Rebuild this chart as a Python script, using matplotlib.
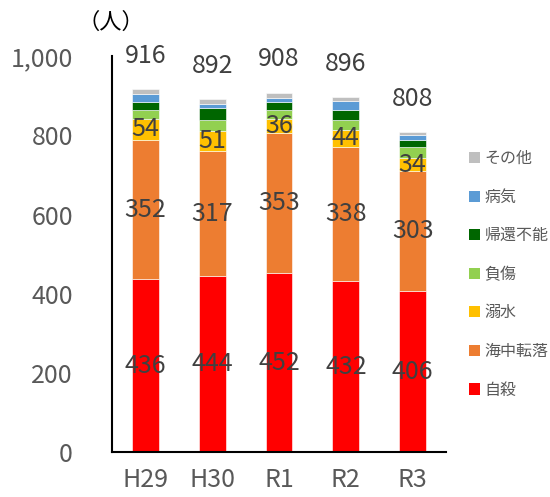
import matplotlib
matplotlib.use('Agg')

import numpy as np
import matplotlib.pyplot as plt
from matplotlib.patches import Patch
from matplotlib.ticker import FuncFormatter

# Font with Japanese glyphs first, DejaVu as fallback
plt.rcParams['font.family'] = ['Noto Sans CJK JP', 'DejaVu Sans']

# Fiscal years
years = ['H29', 'H30', 'R1', 'R2', 'R3']

# Values per cause (bottom to top)
jisatsu    = [436, 444, 452, 432, 406]
kaichu     = [352, 317, 353, 338, 303]
dekisui    = [54, 51, 36, 44, 34]
fusho      = [23, 26, 23, 25, 27]
kikan      = [20, 30, 19, 25, 19]
byoki      = [19, 12, 12, 22, 11]
sonota     = [12, 12, 13, 10, 8]
totals     = [916, 892, 908, 896, 808]

series = [
    ('自殺', jisatsu, '#FF0000', True),
    ('海中転落', kaichu, '#ED7D31', True),
    ('溺水', dekisui, '#FFC000', True),
    ('負傷', fusho, '#92D050', False),
    ('帰還不能', kikan, '#006600', False),
    ('病気', byoki, '#5B9BD5', False),
    ('その他', sonota, '#BFBFBF', False),
]

text_color = '#404040'
tick_color = '#595959'

fig = plt.figure(figsize=(5.5, 4.97), dpi=100)
ax = fig.add_axes([0.2036, 0.0905, 0.6074, 0.7965])

x = np.arange(len(years))
bottom = np.zeros(len(years))
handles = []
for name, vals, color, labelled in series:
    vals = np.array(vals, dtype=float)
    bars = ax.bar(x, vals, 0.4, bottom=bottom, color=color,
                  edgecolor='white', linewidth=0.4)
    if labelled:
        for xi, b, v in zip(x, bottom, vals):
            ax.text(xi, b + v / 2, f'{int(v)}', ha='center', va='center',
                    fontsize=18, color=text_color)
    handles.append(Patch(facecolor=color, label=name))
    bottom += vals

# Totals above each bar
for xi, t in zip(x, totals):
    ax.annotate(f'{t}', (xi, t), xytext=(0, 24), textcoords='offset points',
                ha='center', va='center', fontsize=18, color=text_color,
                annotation_clip=False)

ax.set_xlim(-0.5, len(years) - 0.5)
ax.set_ylim(0, 1000)
ax.set_yticks(range(0, 1001, 200))
ax.yaxis.set_major_formatter(FuncFormatter(lambda v, p: f'{v:,.0f}'))
ax.set_xticks(x)
ax.set_xticklabels(years)
ax.tick_params(length=0, labelsize=18, colors=tick_color)
ax.tick_params(axis='x', pad=11)
ax.tick_params(axis='y', pad=28)

for side in ['top', 'right']:
    ax.spines[side].set_visible(False)
for side in ['left', 'bottom']:
    ax.spines[side].set_color('black')
    ax.spines[side].set_linewidth(1.5)

# Unit label
fig.text(0.14, 0.955, '（人）', fontsize=16, color='black', ha='left', va='center')

# Legend, reversed so it reads top to bottom like the stack
fig.legend(handles=handles[::-1], loc='center left',
           bbox_to_anchor=(0.852, 0.448), frameon=False, fontsize=11.5,
           handlelength=0.7, handleheight=0.7, handletextpad=0.3,
           labelspacing=1.35, borderpad=0, borderaxespad=0,
           labelcolor=tick_color)

fig.savefig('out.png', dpi=100)
